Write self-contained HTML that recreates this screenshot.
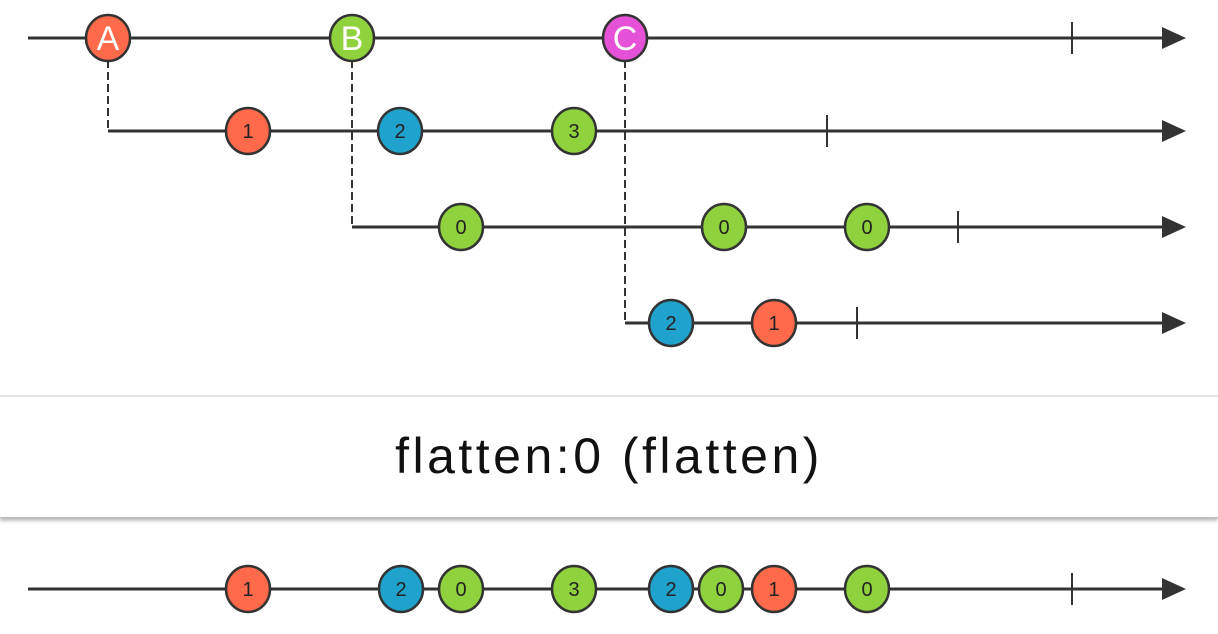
<!DOCTYPE html>
<html><head><style>body{margin:0;background:#fff;width:1218px;height:634px;overflow:hidden;position:relative}
.box{position:absolute;left:0;top:395px;width:1218px;height:120px;background:#fff;border-top:2px solid #e4e4e4;box-shadow:0 3px 3px rgba(0,0,0,.25);border-bottom:1px solid #bbb;text-align:center;font:50px "Liberation Sans",sans-serif;letter-spacing:3.5px;line-height:118px;color:#111}
svg{position:absolute;left:0;top:0}</style></head><body>
<div class="box">flatten:0 (flatten)</div>
<svg width="1218" height="634" font-family="Liberation Sans, sans-serif">
<defs><g id="ah"><polygon points="0,-11 24,0 0,11" fill="#333"/></g></defs>
<g stroke="#333" stroke-width="3" fill="none">
<line x1="28" y1="38" x2="1165" y2="38"/>
<line x1="108" y1="131" x2="1165" y2="131"/>
<line x1="352" y1="227" x2="1165" y2="227"/>
<line x1="625" y1="323" x2="1165" y2="323"/>
<line x1="28" y1="589" x2="1165" y2="589"/>
<g stroke-width="2"><line x1="1072" y1="22" x2="1072" y2="54"/><line x1="827" y1="115" x2="827" y2="147"/><line x1="958" y1="211" x2="958" y2="243"/><line x1="857" y1="307" x2="857" y2="339"/><line x1="1072" y1="573" x2="1072" y2="605"/></g>
<g stroke-width="2" stroke-dasharray="8,4"><line x1="108" y1="60" x2="108" y2="131"/><line x1="352" y1="60" x2="352" y2="227"/><line x1="625" y1="60" x2="625" y2="323"/></g>
</g>
<use href="#ah" x="1162" y="38"/><use href="#ah" x="1162" y="131"/><use href="#ah" x="1162" y="227"/><use href="#ah" x="1162" y="323"/><use href="#ah" x="1162" y="589"/>
<g stroke="#333" stroke-width="2.5">
<ellipse cx="108" cy="38" rx="22" ry="23" fill="#ff6a4a"/>
<ellipse cx="352" cy="38" rx="22" ry="23" fill="#8fd23e"/>
<ellipse cx="625" cy="38" rx="22" ry="23" fill="#e552d8"/>
<ellipse cx="248" cy="131" rx="22" ry="23" fill="#ff6a4a"/>
<ellipse cx="400" cy="131" rx="22" ry="23" fill="#1fa2cc"/>
<ellipse cx="574" cy="131" rx="22" ry="23" fill="#8fd23e"/>
<ellipse cx="461" cy="227" rx="22" ry="23" fill="#8fd23e"/>
<ellipse cx="724" cy="227" rx="22" ry="23" fill="#8fd23e"/>
<ellipse cx="867" cy="227" rx="22" ry="23" fill="#8fd23e"/>
<ellipse cx="671" cy="323" rx="22" ry="23" fill="#1fa2cc"/>
<ellipse cx="774" cy="323" rx="22" ry="23" fill="#ff6a4a"/>
<ellipse cx="248" cy="589" rx="22" ry="23" fill="#ff6a4a"/>
<ellipse cx="401" cy="589" rx="22" ry="23" fill="#1fa2cc"/>
<ellipse cx="461" cy="589" rx="22" ry="23" fill="#8fd23e"/>
<ellipse cx="574" cy="589" rx="22" ry="23" fill="#8fd23e"/>
<ellipse cx="671" cy="589" rx="22" ry="23" fill="#1fa2cc"/>
<ellipse cx="721" cy="589" rx="22" ry="23" fill="#8fd23e"/>
<ellipse cx="774" cy="589" rx="22" ry="23" fill="#ff6a4a"/>
<ellipse cx="867" cy="589" rx="22" ry="23" fill="#8fd23e"/>
</g>
<g text-anchor="middle" font-size="34" fill="#fff"><text x="108" y="50">A</text><text x="352" y="50">B</text><text x="625" y="50">C</text></g>
<g text-anchor="middle" font-size="20" fill="#222">
<text x="248" y="138">1</text><text x="400" y="138">2</text><text x="574" y="138">3</text>
<text x="461" y="234">0</text><text x="724" y="234">0</text><text x="867" y="234">0</text>
<text x="671" y="330">2</text><text x="774" y="330">1</text>
<text x="248" y="596">1</text><text x="401" y="596">2</text><text x="461" y="596">0</text><text x="574" y="596">3</text><text x="671" y="596">2</text><text x="721" y="596">0</text><text x="774" y="596">1</text><text x="867" y="596">0</text>
</g>
</svg>
</body></html>
